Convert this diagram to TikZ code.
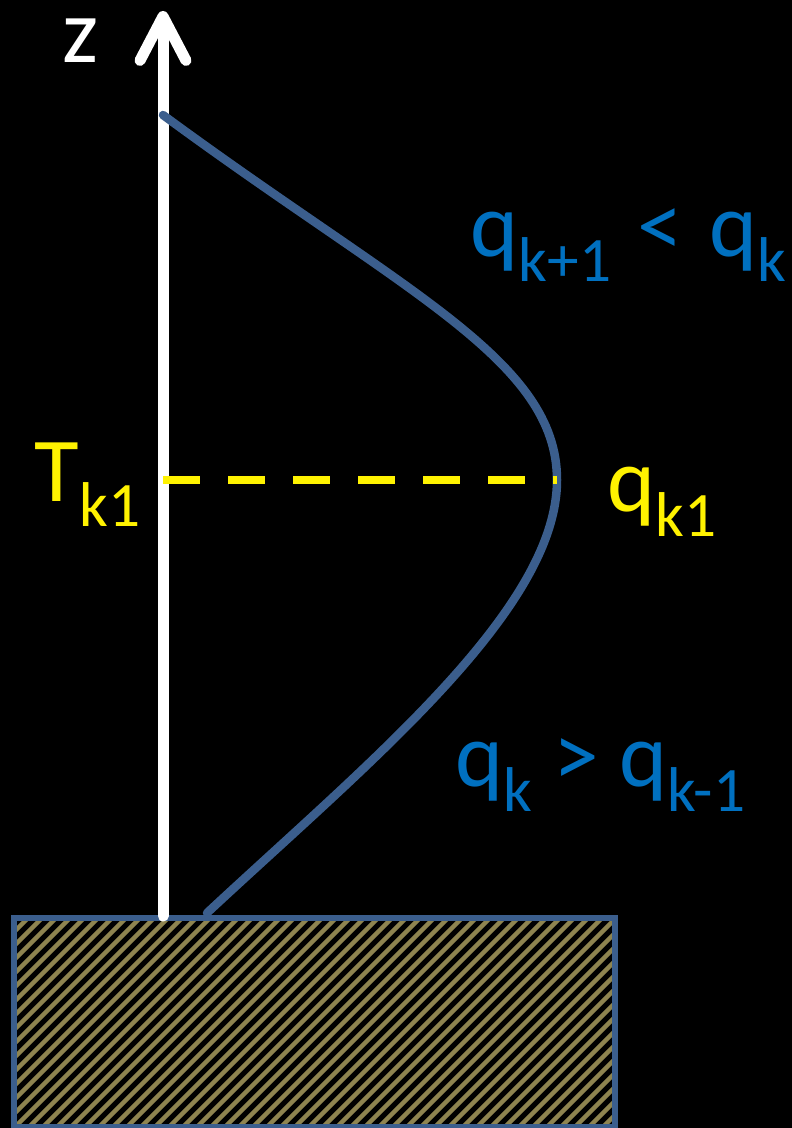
\documentclass[tikz,border=0pt]{standalone}
\usepackage{fontspec}
\setmainfont{Carlito}
\usetikzlibrary{arrows.meta}
\definecolor{curveblue}{HTML}{3B5E8D}
\definecolor{labelblue}{HTML}{0070C0}
\definecolor{hatchgold}{HTML}{8E8450}
\newcommand{\lowsub}[1]{\raisebox{-0.25cm}{\fontsize{18}{18}\selectfont #1}}

\begin{document}
\begin{tikzpicture}[
    lbl/.style={anchor=base west, inner sep=0pt, font=\fontsize{26}{26}\selectfont},
    >={Straight Barb[length=0.44cm, width=0.46cm, round]}
  ]
  \fill[black] (0,0) rectangle (7.92,11.28);
  \useasboundingbox (0,0) rectangle (7.92,11.28);
  % ground block
  \begin{scope}
    \clip (0.14,0) rectangle (6.15,2.10);
    \foreach \c in {-2.2,-2.06,...,6.2}
      \draw[hatchgold, line width=0.045cm] (\c,-0.1) -- ++(2.4,2.4);
  \end{scope}
  \draw[curveblue, line width=0.055cm] (0.14,0.01) rectangle (6.15,2.10);
  % z axis
  \coordinate (zbase) at (1.63,2.12);
  \coordinate (ztop) at (1.63,11.17);
  \draw[white, line width=0.11cm, line cap=round, ->] (zbase) -- (ztop);
  \node[lbl, white, text height=0.44cm] (zlabel) at (0.62,10.65) {z};
  % profile
  \coordinate (ptop) at (1.63,10.13);
  \coordinate (pmax) at (5.57,6.48);
  \coordinate (pfoot) at (2.07,2.15);
  \draw[curveblue, line width=0.085cm, line cap=round]
    (ptop) .. controls (4.05,8.35) and (5.57,7.68) .. (pmax)
           .. controls (5.57,5.18) and (3.68,3.65) .. (pfoot);
  % level of the maximum
  \coordinate (tlevel) at (1.63,6.48);
  \draw[yellow, line width=0.08cm, dash pattern=on 0.37cm off 0.28cm] (tlevel) -- (pmax);
  \node[lbl, yellow] (tlabel) at (0.34,6.26) {T\lowsub{k1}};
  \node[lbl, yellow] (qmaxlabel) at (6.07,6.16) {q\lowsub{k1}};
  \node[lbl, labelblue] (upperlabel) at (4.70,8.71)
    {q\lowsub{k+1}\hspace{0.06cm} < \hspace{0.06cm}q\lowsub{k}};
  \node[lbl, labelblue] (lowerlabel) at (4.55,3.41)
    {q\lowsub{k} > q\lowsub{k-1}};
\end{tikzpicture}
\end{document}
